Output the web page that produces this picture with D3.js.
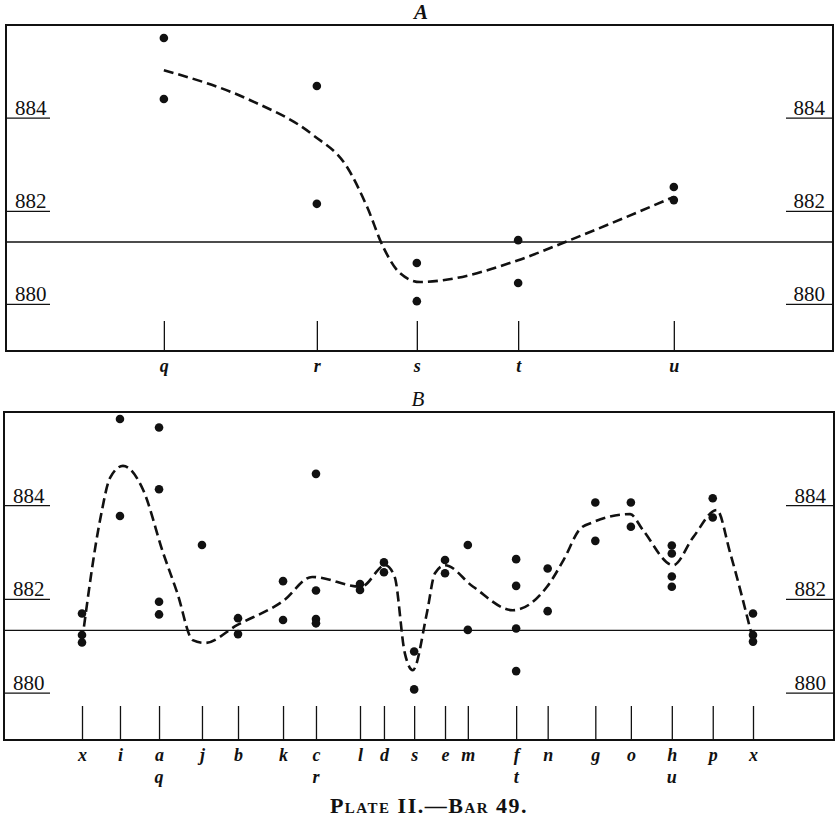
<!DOCTYPE html>
<html><head><meta charset="utf-8">
<script src="https://cdn.jsdelivr.net/npm/d3@7"></script>
<style>body{margin:0;background:#fff}svg{display:block}</style></head>
<body><svg id="c" width="837" height="822"></svg>
<script>
// ---- Data (station positions as relative distance along the bar, 0–100) ----
const meanLevel = 881.34;
const yTicks = [880, 882, 884];

// Panel A
const stationsA = ["q", "r", "s", "t", "u"];
const stationsAPos = [12.2, 35.0, 49.9, 65.0, 88.2];
const obsA = [
  [885.72, 884.41],
  [884.69, 882.16],
  [880.89, 880.07],
  [881.38, 880.46],
  [882.52, 882.24]
];
const curveAPos = [12.2, 25.0, 34.4, 39.5, 42.5, 44.9, 47.4, 50.4, 53.8, 65.0, 72.7, 88.2];
const curveAVal = [885.03, 884.39, 883.64, 882.95, 882.09, 881.23, 880.67, 880.48, 880.52, 880.95, 881.38, 882.31];

// Panel B
const stationsB = ["x","i","a","j","b","k","c","l","d","s","e","m","f","n","g","o","h","p","x"];
const stationsB2 = ["","","q","","","","r","","","","","","t","","","","u","",""];
const stationsBPos = [0, 5.66, 11.48, 17.88, 23.25, 29.96, 34.87, 41.43, 45.0, 49.5, 54.1, 57.5, 64.7, 69.4, 76.5, 81.8, 87.9, 94.0, 100];
const obsB = [
  [881.70, 881.24, 881.08],
  [885.85, 883.78],
  [885.67, 884.35, 881.95, 881.68],
  [883.16],
  [881.60, 881.26],
  [882.39, 881.56],
  [884.68, 882.19, 881.58, 881.49],
  [882.33, 882.20],
  [882.79, 882.58],
  [880.89, 880.08],
  [882.84, 882.56],
  [883.16, 881.35],
  [882.86, 882.29, 881.38, 880.47],
  [882.66, 881.75],
  [884.07, 883.25],
  [884.07, 883.55],
  [883.15, 882.98, 882.49, 882.27],
  [884.16, 883.75],
  [881.70, 881.24, 881.10]
];
const curveBPos = [0, 2.7, 4.2, 6.1, 9.1, 12.1, 14.2, 16.5, 18.3, 23.1, 30.0, 34.3, 41.6, 45.2, 46.6, 48.1, 49.3, 51.4, 52.6, 54.1, 58.3, 64.2, 69.3, 71.8, 74.2, 76.2, 81.7, 83.6, 88.1, 91.1, 94.6, 96.6, 100];
const curveBVal = [881.1, 883.7, 884.6, 884.85, 884.34, 882.99, 882.14, 881.13, 881.07, 881.45, 881.97, 882.48, 882.27, 882.73, 882.48, 880.86, 880.49, 881.71, 882.56, 882.73, 882.27, 881.77, 882.27, 882.85, 883.5, 883.65, 883.82, 883.48, 882.73, 883.33, 883.91, 882.99, 881.13];

// ---- Drawing ----
const svg = d3.select("#c");
const serif = "Liberation Serif, Times New Roman, serif";
const x = d3.scaleLinear().domain([0, 100]).range([82, 753]);

function panel(cfg) {
  const y = d3.scaleLinear().domain([879, 886]).range([cfg.bottom, cfg.top]);
  const g = svg.append("g");

  // frame
  g.append("rect")
    .attr("x", cfg.left).attr("y", cfg.top)
    .attr("width", cfg.right - cfg.left).attr("height", cfg.bottom - cfg.top)
    .attr("fill", "none").attr("stroke", "#111").attr("stroke-width", 2);

  // mean level line
  g.append("line")
    .attr("x1", cfg.left).attr("x2", cfg.right)
    .attr("y1", y(meanLevel)).attr("y2", y(meanLevel))
    .attr("stroke", "#111").attr("stroke-width", 1.3);

  // y labels with underlines, both sides
  yTicks.forEach(v => {
    g.append("line").attr("x1", cfg.left).attr("x2", 50)
      .attr("y1", y(v)).attr("y2", y(v)).attr("stroke", "#111").attr("stroke-width", 1.3);
    g.append("text").attr("x", cfg.left + 9).attr("y", y(v) - 3)
      .style("font-family", serif).attr("font-size", 21).attr("fill", "#111").text(v);
    g.append("line").attr("x1", 786).attr("x2", cfg.right)
      .attr("y1", y(v)).attr("y2", y(v)).attr("stroke", "#111").attr("stroke-width", 1.3);
    g.append("text").attr("x", cfg.right - 8).attr("y", y(v) - 3).attr("text-anchor", "end")
      .style("font-family", serif).attr("font-size", 21).attr("fill", "#111").text(v);
  });

  // x axis: ticks inside the frame, labels below
  const labelMap = new Map(cfg.pos.map((p, i) => [p, cfg.names[i]]));
  const axis = d3.axisBottom(x).tickValues(cfg.pos)
    .tickFormat(d => labelMap.get(d))
    .tickSizeInner(-cfg.tick).tickSizeOuter(0).tickPadding(8);
  const ax = g.append("g").attr("transform", `translate(0,${cfg.bottom})`).call(axis);
  ax.select(".domain").remove();
  ax.selectAll(".tick line").attr("stroke", "#111").attr("stroke-width", 1.3);
  ax.selectAll(".tick text")
    .style("font-family", serif).attr("font-size", 18).attr("font-style", "italic")
    .attr("font-weight", "bold").attr("fill", "#111");
  if (cfg.names2) {
    cfg.pos.forEach((p, i) => {
      if (!cfg.names2[i]) return;
      g.append("text").attr("x", x(p)).attr("y", cfg.bottom + 43)
        .attr("text-anchor", "middle").style("font-family", serif).attr("font-size", 18)
        .attr("font-style", "italic").attr("font-weight", "bold").attr("fill", "#111")
        .text(cfg.names2[i]);
    });
  }

  // dashed curve
  const line = d3.line().x(d => x(d[0])).y(d => y(d[1])).curve(d3.curveMonotoneX);
  g.append("path")
    .datum(cfg.cPos.map((p, i) => [p, cfg.cVal[i]]))
    .attr("d", line)
    .attr("fill", "none").attr("stroke", "#111").attr("stroke-width", 2.6)
    .attr("stroke-dasharray", "10,5");

  // observation dots
  const pts = [];
  cfg.obs.forEach((arr, i) => arr.forEach(v => pts.push([cfg.pos[i], v])));
  g.selectAll("circle.obs").data(pts).enter().append("circle")
    .attr("class", "obs")
    .attr("cx", d => x(d[0])).attr("cy", d => y(d[1])).attr("r", 4.3)
    .attr("fill", "#111");

  // title
  g.append("text").attr("x", cfg.titleX).attr("y", cfg.top - 6)
    .attr("text-anchor", "middle").style("font-family", serif).attr("font-size", 21)
    .attr("font-style", "italic").attr("font-weight", cfg.titleBold ? "bold" : "normal")
    .attr("fill", "#111").text(cfg.title);
}

panel({
  top: 25, bottom: 351, left: 6, right: 833, tick: 30,
  names: stationsA, pos: stationsAPos, obs: obsA,
  cPos: curveAPos, cVal: curveAVal,
  title: "A", titleX: 421, titleBold: true
});

panel({
  top: 412, bottom: 740, left: 4, right: 834, tick: 34,
  names: stationsB, names2: stationsB2, pos: stationsBPos, obs: obsB,
  cPos: curveBPos, cVal: curveBVal,
  title: "B", titleX: 418, titleBold: false
});

svg.append("text").attr("x", 429).attr("y", 813).attr("text-anchor", "middle")
  .style("font-family", serif).attr("font-size", 22).attr("font-weight", "bold")
  .style("font-variant", "small-caps").style("letter-spacing", "1.5px").attr("fill", "#111")
  .text("Plate II.—Bar 49.");
</script></body></html>
